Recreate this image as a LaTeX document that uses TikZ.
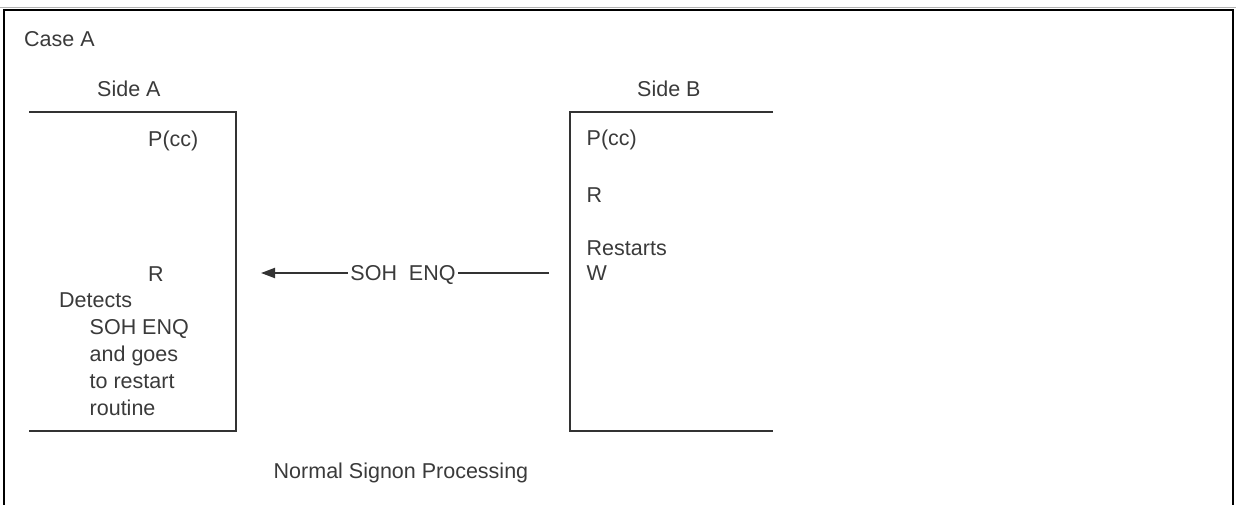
\documentclass[tikz,border=0pt]{standalone}
\usepackage{fontspec}
\setmainfont{Liberation Sans}
\usetikzlibrary{arrows.meta}
\definecolor{txt}{HTML}{3A3A3A}
\definecolor{ln}{HTML}{333333}
\tikzset{
  lbl/.style={anchor=base west, inner sep=0pt, text=txt, font=\fontsize{21.5}{26}\selectfont},
  boxline/.style={draw=ln, line width=2pt},
  frame/.style={draw=black, line width=2.5pt},
  msg/.style={draw=ln, line width=2pt, -{Triangle[length=14pt,width=10pt]}},
  msglbl/.style={fill=white, inner xsep=2pt, inner ysep=0pt, anchor=base, text=txt, font=\fontsize{21.5}{26}\selectfont}
}
\begin{document}
\begin{tikzpicture}[x=1pt,y=-1pt]
\useasboundingbox (0,0) rectangle (1236,505);
% outer frame
\draw[gray!60, line width=1pt] (0,7.5) -- (1236,7.5);
\draw[frame] (4,505) -- (4,10) -- (1233,10) -- (1233,505);
% Side A box
\coordinate (a1) at (29,112);
\coordinate (a2) at (236,112);
\coordinate (a3) at (236,431);
\coordinate (a4) at (29,431);
\draw[boxline] (a1) -- (a2) -- (a3) -- (a4);
% Side B box
\coordinate (b1) at (773,112);
\coordinate (b2) at (570,112);
\coordinate (b3) at (570,431);
\coordinate (b4) at (773,431);
\draw[boxline] (b1) -- (b2) -- (b3) -- (b4);
% texts
\node[lbl] (caseA) at (24,47) {Case A};
\node[lbl] (sideA) at (97,97) {Side A};
\node[lbl] (pccA) at (148,147) {P(cc)};
\node[lbl] (rA) at (148,281) {R};
\node[lbl] (det) at (59,307) {Detects};
\node[lbl] (l1) at (89.5,334) {SOH ENQ};
\node[lbl] (l2) at (89.5,361) {and goes};
\node[lbl] (l3) at (89.5,388) {to restart};
\node[lbl] (l4) at (89.5,415) {routine};
\node[lbl] (sideB) at (637,97) {Side B};
\node[lbl] (pccB) at (586.5,146) {P(cc)};
\node[lbl] (rB) at (586.5,202) {R};
\node[lbl] (rst) at (586.5,255) {Restarts};
\node[lbl] (wB) at (586.5,280) {W};
\node[lbl] (nsp) at (273.5,478) {Normal Signon Processing};
% message arrow
\coordinate (ms) at (549,273);
\coordinate (me) at (261,273);
\draw[msg] (ms) -- (me);
\node[msglbl] (soh) at (403,280.5) {SOH~~ENQ};
\end{tikzpicture}
\end{document}
